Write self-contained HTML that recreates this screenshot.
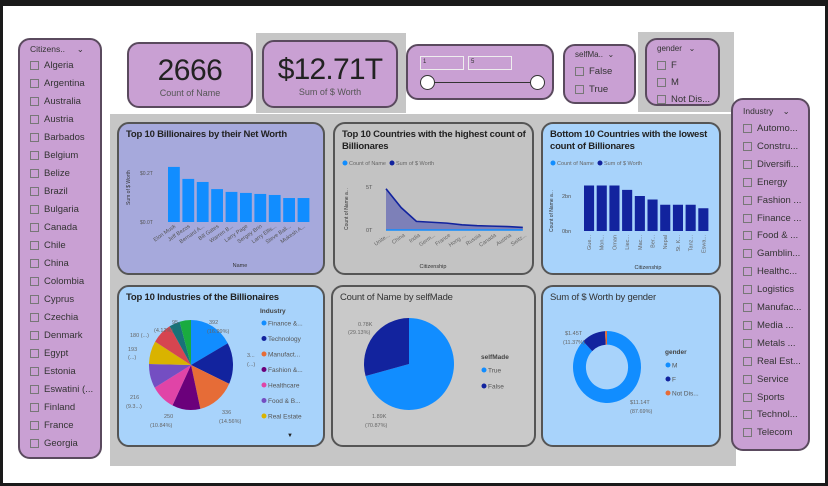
<!DOCTYPE html>
<html><head><meta charset="utf-8"><style>
*{box-sizing:border-box;margin:0;padding:0}
body{width:828px;height:486px;background:#1a1a1a;font-family:"Liberation Sans",sans-serif;position:relative;overflow:hidden}
.abs{position:absolute}
.pink{background:#c9a0d3;border:2px solid #5a4a5e;border-radius:12px}
.card{border:2px solid #555;border-radius:12px;position:absolute}
.title{position:absolute;left:7px;top:5px;font-weight:bold;font-size:9.5px;letter-spacing:-0.2px;color:#222;line-height:12px}
.sl{font-size:9.5px;color:#333;position:absolute;left:10px;display:flex;align-items:center}
.sl i{display:inline-block;width:9px;height:9px;border:1px solid #777;margin-right:5px}
svg text{font-family:"Liberation Sans",sans-serif}
</style></head><body>
<div class="abs" style="left:3px;top:6px;width:822px;height:477px;background:#fff"></div>
<div class="abs" style="left:110px;top:114px;width:626px;height:352px;background:#c6c6c6"></div>
<div class="abs" style="left:256px;top:33px;width:150px;height:80px;background:#c6c6c6"></div>
<div class="abs" style="left:638px;top:32px;width:96px;height:80px;background:#c6c6c6"></div>

<div class="abs pink" id="cit" style="left:18px;top:38px;width:84px;height:421px"></div>
<div class="abs pink" id="ind" style="left:731px;top:98px;width:79px;height:353px"></div>

<div class="abs pink" style="left:127px;top:42px;width:126px;height:66px;text-align:center">
<div style="font-size:30px;color:#222;margin-top:10px;letter-spacing:-0.5px">2666</div>
<div style="font-size:9px;color:#555">Count of Name</div></div>
<div class="abs pink" style="left:262px;top:40px;width:136px;height:68px;text-align:center">
<div style="font-size:30px;color:#222;margin-top:11px;letter-spacing:-0.8px">$12.71T</div>
<div style="font-size:9px;color:#555">Sum of $ Worth</div></div>
<div class="abs pink" style="left:406px;top:44px;width:148px;height:56px">
<div class="abs" style="left:12px;top:10px;width:44px;height:14px;border:1px solid #eee;font-size:6px;color:#333;padding:2px">1</div>
<div class="abs" style="left:60px;top:10px;width:44px;height:14px;border:1px solid #eee;font-size:6px;color:#333;padding:2px">5</div>
<div class="abs" style="left:18px;top:36px;width:110px;height:1px;background:#333"></div>
<div class="abs" style="left:12px;top:29px;width:15px;height:15px;border-radius:50%;background:#fff;border:1px solid #333"></div>
<div class="abs" style="left:122px;top:29px;width:15px;height:15px;border-radius:50%;background:#fff;border:1px solid #333"></div></div>
<div class="abs pink" style="left:563px;top:44px;width:73px;height:60px">
<div class="sl" style="top:4px;font-size:8px">selfMa.. &nbsp;⌄</div>
<div class="sl" style="top:20px"><i></i>False</div><div class="sl" style="top:38px"><i></i>True</div></div>
<div class="abs pink" style="left:645px;top:38px;width:75px;height:68px">
<div class="sl" style="top:4px;font-size:8px">gender &nbsp;&nbsp;⌄</div>
<div class="sl" style="top:20px"><i></i>F</div><div class="sl" style="top:37px"><i></i>M</div><div class="sl" style="top:54px"><i></i>Not Dis...</div></div>

<div class="card" style="left:117px;top:122px;width:208px;height:153px;background:#a6a9dc"><div class="title">Top 10 Billionaires by their Net Worth</div></div>
<div class="card" style="left:333px;top:122px;width:201px;height:153px;background:#c3c3c3"><div class="title">Top 10 Countries with the highest count of Billionares</div></div>
<div class="card" style="left:541px;top:122px;width:180px;height:153px;background:#a8d3fb"><div class="title">Bottom 10 Countries with the lowest count of Billionares</div></div>
<div class="card" style="left:117px;top:285px;width:208px;height:162px;background:#a8d3fb"><div class="title">Top 10 Industries of the Billionaires</div></div>
<div class="card" style="left:331px;top:285px;width:205px;height:162px;background:#c9c9c9"><div class="title" style="font-weight:normal;color:#333">Count of Name by selfMade</div></div>
<div class="card" style="left:541px;top:285px;width:180px;height:162px;background:#a8d3fb"><div class="title" style="font-weight:normal;color:#333">Sum of $ Worth by gender</div></div>

<svg class="abs" id="svg" width="828" height="486" style="left:0;top:0"></svg>
<script>
const citizens=["Algeria","Argentina","Australia","Austria","Barbados","Belgium","Belize","Brazil","Bulgaria","Canada","Chile","China","Colombia","Cyprus","Czechia","Denmark","Egypt","Estonia","Eswatini (...","Finland","France","Georgia"];
const industries=["Automo...","Constru...","Diversifi...","Energy","Fashion ...","Finance ...","Food & ...","Gamblin...","Healthc...","Logistics","Manufac...","Media ...","Metals ...","Real Est...","Service","Sports","Technol...","Telecom"];
const names=["Elon Musk","Jeff Bezos","Bernard A...","Bill Gates","Warren B...","Larry Page","Sergey Brin","Larry Ellis...","Steve Ball...","Mukesh A..."];
const worthT=[0.216,0.169,0.157,0.129,0.118,0.114,0.110,0.106,0.094,0.094];
const topCountries=["Unite...","China","India","Germ...","France","Hong ...","Russia","Canada","Austria","Switz..."];
const topWorthT=[4.8,2.6,1.0,0.9,0.8,0.6,0.5,0.45,0.4,0.3];
const botCountries=["Gue...","Mon...","Oman","Liec...","Mac...","Ber...","Nepal","St. K...","Tanz...","Eswa..."];
const botWorthBn=[2.6,2.6,2.6,2.35,2.0,1.8,1.5,1.5,1.5,1.3];
const indNames=["Finance &...","Technology","Manufact...","Fashion &...","Healthcare","Food & B...","Real Estate","Diversified","Energy","Sports"];
const indCounts=[392,343,336,250,216,201,193,180,95,101];
const indColors=["#118dff","#12239e","#e66c37","#6b007b","#e044a7","#744ec2","#d9b300","#d64550","#197278","#1aab40"];
const smNames=["True","False"];const smCounts=[1890,780];
const gNames=["M","F","Not Dis..."];const gWorth=[11.14,1.45,0.12];

const S=document.getElementById('svg');const NS='http://www.w3.org/2000/svg';
function el(t,a,txt){const e=document.createElementNS(NS,t);for(const k in a)e.setAttribute(k,a[k]);if(txt!=null)e.textContent=txt;S.appendChild(e);return e;}
function div(parent,html,style){const d=document.createElement('div');d.className='sl';d.innerHTML=html;d.style.cssText+=style;document.getElementById(parent).appendChild(d);return d;}
let d=div('cit','Citizens.. &nbsp;&nbsp;&nbsp;&nbsp;⌄','top:4px;font-size:8.5px');


citizens.forEach((c,i)=>{const x=div('cit','<i></i>'+c,'top:'+(20+i*18)+'px');

});
d=div('ind','Industry &nbsp;&nbsp;&nbsp;⌄','top:6px;font-size:8.5px');


industries.forEach((c,i)=>{const x=div('ind','<i></i>'+c,'top:'+(23+i*17.9)+'px');

});

// chart1
{const x0=168,bw=14.4,base=222,sc=51/0.2;
el('text',{x:140,y:175,'font-size':5,fill:'#555'},'$0.2T');el('text',{x:140,y:224,'font-size':5,fill:'#555'},'$0.0T');
el('text',{x:0,y:0,'font-size':5,fill:'#333',transform:'translate(130,205) rotate(-90)'},'Sum of $ Worth');
worthT.forEach((v,i)=>{const r=el('rect',{x:x0+i*bw,y:base-v*sc,width:bw-2.6,height:v*sc,fill:'#118dff'});


el('text',{x:0,y:0,'font-size':5.5,fill:'#555','text-anchor':'end',transform:`translate(${x0+i*bw+8},${base+5}) rotate(-35)`},names[i]);});
el('text',{x:240,y:267,'font-size':5.5,fill:'#333','text-anchor':'middle'},'Name');}
// chart2
{const x0=386,step=15.2,base=230,sc=43/5;
el('circle',{cx:345,cy:163,r:2.5,fill:'#118dff'});el('text',{x:349,y:165,'font-size':5.5,fill:'#666'},'Count of Name');
el('circle',{cx:392,cy:163,r:2.5,fill:'#12239e'});el('text',{x:396,y:165,'font-size':5.5,fill:'#666'},'Sum of $ Worth');
el('text',{x:366,y:189,'font-size':5.5,fill:'#555'},'5T');el('text',{x:366,y:232,'font-size':5.5,fill:'#555'},'0T');
el('text',{x:0,y:0,'font-size':5,fill:'#333',transform:'translate(348,230) rotate(-90)'},'Count of Name a...');
const pts=topWorthT.map((v,i)=>[x0+i*step,base-v*sc]);
const p=el('path',{d:'M'+x0+','+base+' L'+pts.map(q=>q.join(',')).join(' L')+' L'+(x0+9*step)+','+base+' Z',fill:'#7d80b8'});


const l=el('polyline',{points:pts.map(q=>q.join(',')).join(' '),fill:'none',stroke:'#12239e','stroke-width':1.6});


el('line',{x1:x0,y1:base,x2:x0+9*step,y2:base,stroke:'#118dff','stroke-width':1.5});
topCountries.forEach((c,i)=>el('text',{x:0,y:0,'font-size':5.5,fill:'#666','text-anchor':'end',transform:`translate(${x0+i*step+4},${base+6}) rotate(-35)`},c));
el('text',{x:433,y:268,'font-size':5.5,fill:'#333','text-anchor':'middle'},'Citizenship');}
// chart3
{const x0=584,bw=12.7,base=231,sc=35/2;
el('circle',{cx:553,cy:163,r:2.5,fill:'#118dff'});el('text',{x:557,y:165,'font-size':5.5,fill:'#666'},'Count of Name');
el('circle',{cx:600,cy:163,r:2.5,fill:'#12239e'});el('text',{x:604,y:165,'font-size':5.5,fill:'#666'},'Sum of $ Worth');
el('text',{x:562,y:198,'font-size':5.5,fill:'#555'},'2bn');el('text',{x:562,y:233,'font-size':5.5,fill:'#555'},'0bn');
el('text',{x:0,y:0,'font-size':5,fill:'#333',transform:'translate(553,232) rotate(-90)'},'Count of Name a...');
botWorthBn.forEach((v,i)=>{const r=el('rect',{x:x0+i*bw,y:base-v*sc,width:bw-2.6,height:v*sc,fill:'#12239e'});


el('text',{x:0,y:0,'font-size':5.5,fill:'#666','text-anchor':'end',transform:`translate(${x0+i*bw+7},${base+4}) rotate(-90)`},botCountries[i]);});
el('text',{x:648,y:269,'font-size':5.5,fill:'#333','text-anchor':'middle'},'Citizenship');}
// pies
function pie(cx,cy,rx,ry,vals,cols,inner,start,nm){const tot=vals.reduce((a,b)=>a+b,0);let a=start;
vals.forEach((v,i)=>{const a2=a+v/tot*2*Math.PI;const big=(a2-a)>Math.PI?1:0;
const P=(r1,r2,t)=>[cx+r1*Math.sin(t),cy-r2*Math.cos(t)];
let d;const o1=P(rx,ry,a),o2=P(rx,ry,a2);
if(inner){const k=inner,i1=P(rx*k,ry*k,a2),i2=P(rx*k,ry*k,a);
d=`M${o1} A${rx},${ry} 0 ${big} 1 ${o2} L${i1} A${rx*k},${ry*k} 0 ${big} 0 ${i2} Z`;}
else d=`M${cx},${cy} L${o1} A${rx},${ry} 0 ${big} 1 ${o2} Z`;
const e=el('path',{d:d,fill:cols[i]});

a=a2;});}
pie(191,365,42,45,indCounts,indColors,0,0,'industry');
pie(409,364,45,46,smCounts,['#118dff','#12239e'],0,0,'selfmade');
pie(607,367,34,36,gWorth,['#118dff','#12239e','#e66c37'],0.62,0,'gender');
// legends
el('text',{x:260,y:313,'font-size':6.5,'font-weight':'bold',fill:'#444'},'Industry');
indNames.slice(0,7).forEach((n,i)=>{el('circle',{cx:264,cy:323+i*15.5,r:2.5,fill:indColors[i]});el('text',{x:268,y:325.5+i*15.5,'font-size':6.5,fill:'#555'},n);});
el('text',{x:290,y:437,'font-size':6,fill:'#222','text-anchor':'middle'},'▼');
el('text',{x:481,y:359,'font-size':6.5,'font-weight':'bold',fill:'#444'},'selfMade');
smNames.forEach((n,i)=>{el('circle',{cx:484,cy:370+i*16,r:2.5,fill:['#118dff','#12239e'][i]});el('text',{x:488,y:372.5+i*16,'font-size':6.5,fill:'#555'},n);});
el('text',{x:665,y:354,'font-size':6.5,'font-weight':'bold',fill:'#444'},'gender');
gNames.forEach((n,i)=>{el('circle',{cx:668,cy:365+i*14,r:2.5,fill:['#118dff','#12239e','#e66c37'][i]});el('text',{x:672,y:367.5+i*14,'font-size':6.5,fill:'#555'},n);});
// data labels
const lab=(x,y,t)=>el('text',{x:x,y:y,'font-size':5.5,fill:'#666'},t);
lab(209,324,'392');lab(207,333,'(16.99%)');lab(172,324,'95');lab(154,332,'(4.12%)');lab(130,337,'180 (...)');lab(128,351,'193');lab(128,359,'(...)');
lab(247,357,'3...');lab(247,366,'(...)');lab(130,399,'216');lab(126,408,'(9.3...)');lab(164,418,'250');lab(150,427,'(10.84%)');lab(222,414,'336');lab(219,423,'(14.56%)');
lab(358,326,'0.78K');lab(348,334,'(29.13%)');lab(372,418,'1.89K');lab(365,427,'(70.87%)');
lab(565,335,'$1.45T');lab(563,344,'(11.37%)');lab(630,404,'$11.14T');lab(630,413,'(87.69%)');
</script>
</body></html>
